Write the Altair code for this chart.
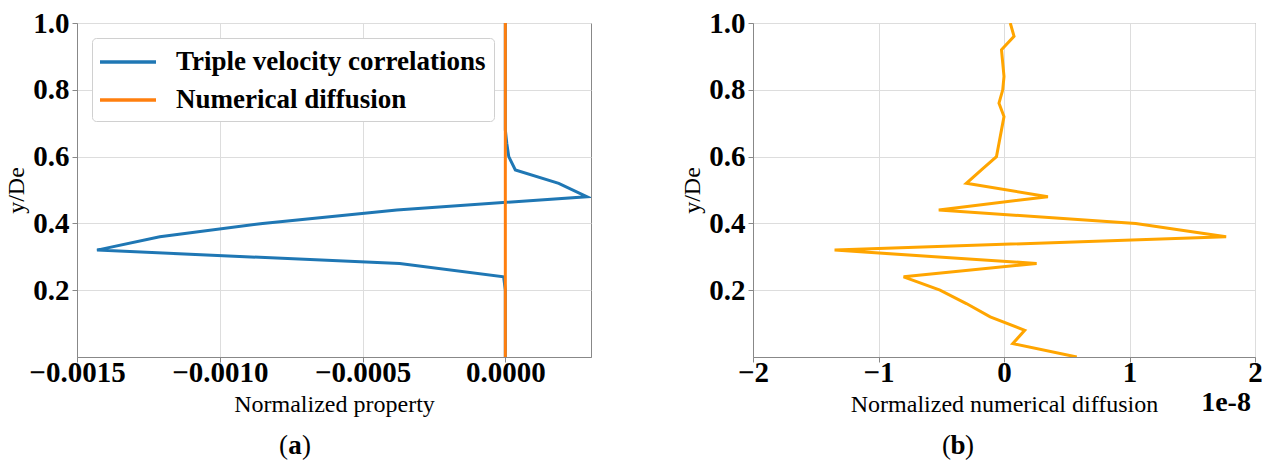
import altair as alt
import pandas as pd

FONT = "Liberation Serif"
BLUE = "#1f77b4"
ORANGE_A = "#ff7f0e"
ORANGE_B = "#ffa500"

# Profile positions across the jet (y/De)
y_de = [0.00, 0.04, 0.08, 0.12, 0.16, 0.20, 0.24, 0.28, 0.32, 0.36, 0.40, 0.44, 0.48,
        0.52, 0.56, 0.60, 0.64, 0.68, 0.72, 0.76, 0.80, 0.84, 0.88, 0.92, 0.96, 1.00]

# Normalized triple velocity correlation term
triple_velocity = [0.0, 0.0, 0.0, 0.0, 0.0, 0.0, -0.000006, -0.00037, -0.00143, -0.00121,
                   -0.00085, -0.00038, 0.000285, 0.000187, 0.000035, 0.000012, 0.000005,
                   0.0, 0.0, 0.0, 0.0, 0.0, 0.0, 0.0, 0.0, 0.0]

# Normalized numerical diffusion, in units of 1e-8
numerical_diffusion_e8 = [0.58, 0.07, 0.165, -0.11, -0.30, -0.51, -0.80, 0.26, -1.35, 1.77,
                          1.05, -0.52, 0.35, -0.30, -0.18, -0.06, -0.04, -0.02, 0.0, -0.04,
                          -0.01, 0.0, -0.01, -0.02, 0.08, 0.05]

series_names = ["Triple velocity correlations", "Numerical diffusion"]

x_ticks_a = [-0.0015, -0.0010, -0.0005, 0.0]
x_ticks_b = [-2, -1, 0, 1, 2]
y_ticks = [0.2, 0.4, 0.6, 0.8, 1.0]

n = len(y_de)
left_df = pd.DataFrame({
    "y": y_de + y_de,
    "value": triple_velocity + [v * 1e-8 for v in numerical_diffusion_e8],
    "series": [series_names[0]] * n + [series_names[1]] * n,
})
right_df = pd.DataFrame({"y": y_de, "value": numerical_diffusion_e8})

y_enc = alt.Y(
    "y:Q",
    scale=alt.Scale(domain=[0, 1], nice=False, zero=False),
    axis=alt.Axis(values=y_ticks, format=".1f", title="y/De"),
)


def caption(letter, cx, cy):
    """Figure caption such as (a): regular parentheses around a bold letter."""
    parts = [("(", "right", "normal", -7), (letter, "center", "bold", 0), (")", "left", "normal", 7)]
    layers = []
    for txt, align, weight, dx in parts:
        layers.append(
            alt.Chart(pd.DataFrame({"t": [txt]}))
            .mark_text(font=FONT, fontSize=27, fontWeight=weight, align=align,
                       baseline="middle", color="black", dx=dx)
            .encode(x=alt.value(cx), y=alt.value(cy), text="t:N")
        )
    return layers


# Panel (a): triple velocity correlations vs numerical diffusion
color_scale = alt.Scale(domain=series_names, range=[BLUE, ORANGE_A])
legend = alt.Legend(
    title=None, orient="none", legendX=15, legendY=15,
    symbolType="M-2,0L2,0", symbolSize=784, symbolStrokeWidth=3.5, symbolOffset=12,
    labelFont=FONT, labelFontWeight="bold", labelFontSize=27, labelColor="black",
    labelOffset=32, rowPadding=9, padding=8, labelLimit=600,
    fillColor="white", strokeColor="#d0d0d0", cornerRadius=4,
)
x_a = alt.X(
    "value:Q",
    scale=alt.Scale(domain=[-0.0015, 0.0003], nice=False, zero=False),
    axis=alt.Axis(values=x_ticks_a, format=".4f", title="Normalized property"),
)
base_a = alt.Chart(left_df).mark_line(strokeWidth=3, clip=True).encode(
    x=x_a, y=y_enc, order="y:Q",
    color=alt.Color("series:N", scale=color_scale, legend=legend),
)
blue_line = base_a.transform_filter(alt.datum.series == series_names[0])
orange_line = base_a.transform_filter(alt.datum.series == series_names[1])

panel_a = alt.layer(blue_line, orange_line, *caption("a", 218, 423)).properties(width=514, height=334)

# Panel (b): numerical diffusion alone
x_b = alt.X(
    "value:Q",
    scale=alt.Scale(domain=[-2, 2], nice=False, zero=False),
    axis=alt.Axis(values=x_ticks_b, format="d", title="Normalized numerical diffusion"),
)
line_b = alt.Chart(right_df).mark_line(strokeWidth=3, color=ORANGE_B, clip=True).encode(
    x=x_b, y=y_enc, order="y:Q"
)
offset_label = alt.Chart(pd.DataFrame({"t": ["1e-8"]})).mark_text(
    font=FONT, fontSize=28, fontWeight="bold", align="center", baseline="middle", color="black"
).encode(x=alt.value(473), y=alt.value(380), text="t:N")

panel_b = alt.layer(line_b, offset_label, *caption("b", 205, 423)).properties(width=502, height=334)

chart = (
    alt.hconcat(panel_a, panel_b, spacing=88)
    .properties(padding={"left": 4, "top": 8, "right": 5, "bottom": 0}, background="white")
    .configure_view(stroke="#888888", strokeWidth=1)
    .configure_axis(
        labelFont=FONT, labelFontWeight="bold", labelFontSize=29, labelColor="black",
        titleFont=FONT, titleFontWeight="normal", titleFontSize=24, titleColor="black",
        gridColor="#dddddd", gridWidth=1, domainColor="#888888", tickColor="#888888",
        tickSize=5, labelPadding=3, titlePadding=4, labelFlush=False, labelOverlap=False,
    )
    .configure_axisX(labelPadding=-4, titlePadding=5)
)

chart.save("out.html", embed_options={"renderer": "svg", "actions": False})
